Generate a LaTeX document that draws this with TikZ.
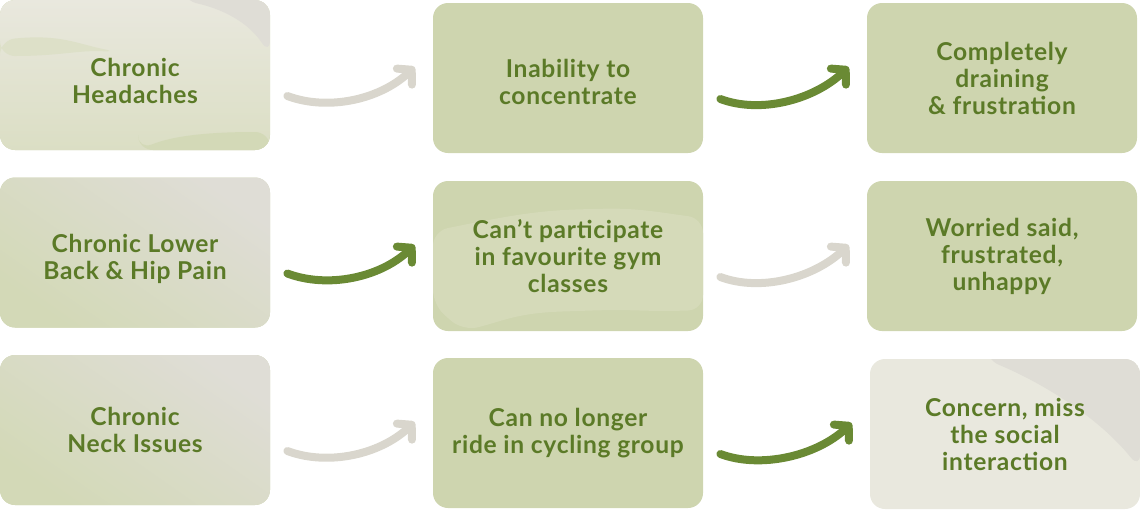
\documentclass[tikz,border=0pt]{standalone}
\usepackage{fontspec}
\setmainfont[LetterSpace=2.8]{Lato}
\usepackage{xcolor}
\usetikzlibrary{arrows.meta}
\definecolor{boxfill}{HTML}{CED5AF}
\definecolor{txtgreen}{HTML}{5B7A27}
\definecolor{arrgreen}{HTML}{6A8A34}
\definecolor{arrgray}{HTML}{D9D6CD}
\definecolor{paleface}{HTML}{E9E8DE}
\definecolor{greyface}{HTML}{DFDDD6}
\definecolor{sagelight}{HTML}{D5DAB9}
\definecolor{sagemid}{HTML}{D3D9B7}
% pushes a two-line label a little lower in its card
\newcommand{\sinkline}[1]{\rule{0pt}{#1}}

\begin{document}
\begin{tikzpicture}[x=0.5pt, y=-0.5pt,
			every node/.style={font=\fontsize{12.3}{13.5}\selectfont\bfseries, text=txtgreen, align=center},
			card/.style={rounded corners=7.5pt, minimum width=135pt, minimum height=75pt, inner sep=0pt, fill=boxfill},
			fadecard/.style={card, top color=greyface, bottom color=sagemid, shading angle=-35},
			flow/.style={line width=4pt, line cap=round, -{Straight Barb[length=5pt, width=11pt, round]}},
			hot/.style={flow, arrgreen},
			cold/.style={flow, arrgray}]
	\useasboundingbox (0,0) rectangle (1140,510);
	% first column
	\node[card, top color=paleface, bottom color=sagelight!70!paleface, path picture={
			\fill[greyface] ([shift={(182,0)}]path picture bounding box.north west)
				.. controls +(45,10) and +(-20,-30) .. ([shift={(0,55)}]path picture bounding box.north east)
				|- cycle;
			\fill[sagelight!60!paleface] ([shift={(0,40)}]path picture bounding box.north west)
				.. controls +(60,-6) and +(-40,-8) .. ([shift={(118,52)}]path picture bounding box.north west)
				.. controls +(-40,-2) and +(60,0) .. ([shift={(0,56)}]path picture bounding box.north west) -- cycle;
			\fill[sagemid] ([shift={(138,0)}]path picture bounding box.south west)
				.. controls +(40,-16) and +(-50,0) .. ([shift={(0,-18)}]path picture bounding box.south east)
				|- cycle;}] (head) at (135,75) {\sinkline{15pt}Chronic\\Headaches};
	\node[fadecard] (back) at (135,252.5) {\sinkline{16pt}Chronic Lower\\Back \& Hip Pain};
	\node[fadecard] (neck) at (135,430) {Chronic\\Neck Issues};
	% second column
	\node[card] (focus) at (568,78) {\sinkline{13pt}Inability to\\concentrate};
	\node[card, path picture={
			\fill[sagelight] ([shift={(0,50)}]path picture bounding box.north west)
				.. controls +(60,-12) and +(-60,2) .. ([shift={(157,28)}]path picture bounding box.north west)
				.. controls +(50,-1) and +(-40,-5) .. ([shift={(0,37)}]path picture bounding box.north east)
				-- ([shift={(0,-21)}]path picture bounding box.south east)
				.. controls +(-60,2) and +(60,-2) .. ([shift={(-126,-20)}]path picture bounding box.south east)
				.. controls +(-60,2) and +(40,-10) .. ([shift={(30,0)}]path picture bounding box.south west)
				-- ([shift={(0,-26)}]path picture bounding box.south west) -- cycle;}] (gym) at (568,256) {Can’t participate\\in favourite gym\\classes};
	\node[card] (cycle) at (568,433) {Can no longer\\ride in cycling group};
	% third column
	\node[card] (drain) at (1002,78) {Completely\\draining\\\& frustration};
	\node[card] (worry) at (1002,256) {Worried said,\\frustrated,\\unhappy};
	\node[card, fill=paleface, path picture={
			\fill[greyface] ([shift={(115,0)}]path picture bounding box.north west)
				.. controls +(60,25) and +(-40,-50) .. ([shift={(0,110)}]path picture bounding box.north east)
				|- cycle;}] (social) at (1005,434) {Concern, miss\\the social\\interaction};
	% arrows between the cards
	\foreach \a/\b/\s in {head/focus/cold, focus/drain/hot, back/gym/hot, gym/worry/cold, neck/cycle/cold, cycle/social/hot}
		\draw[\s] ([shift={(17,21)}]\a.east) .. controls +(40,15) and +(-35,33) .. ([shift={(-18,-11)}]\b.west);
\end{tikzpicture}
\end{document}
